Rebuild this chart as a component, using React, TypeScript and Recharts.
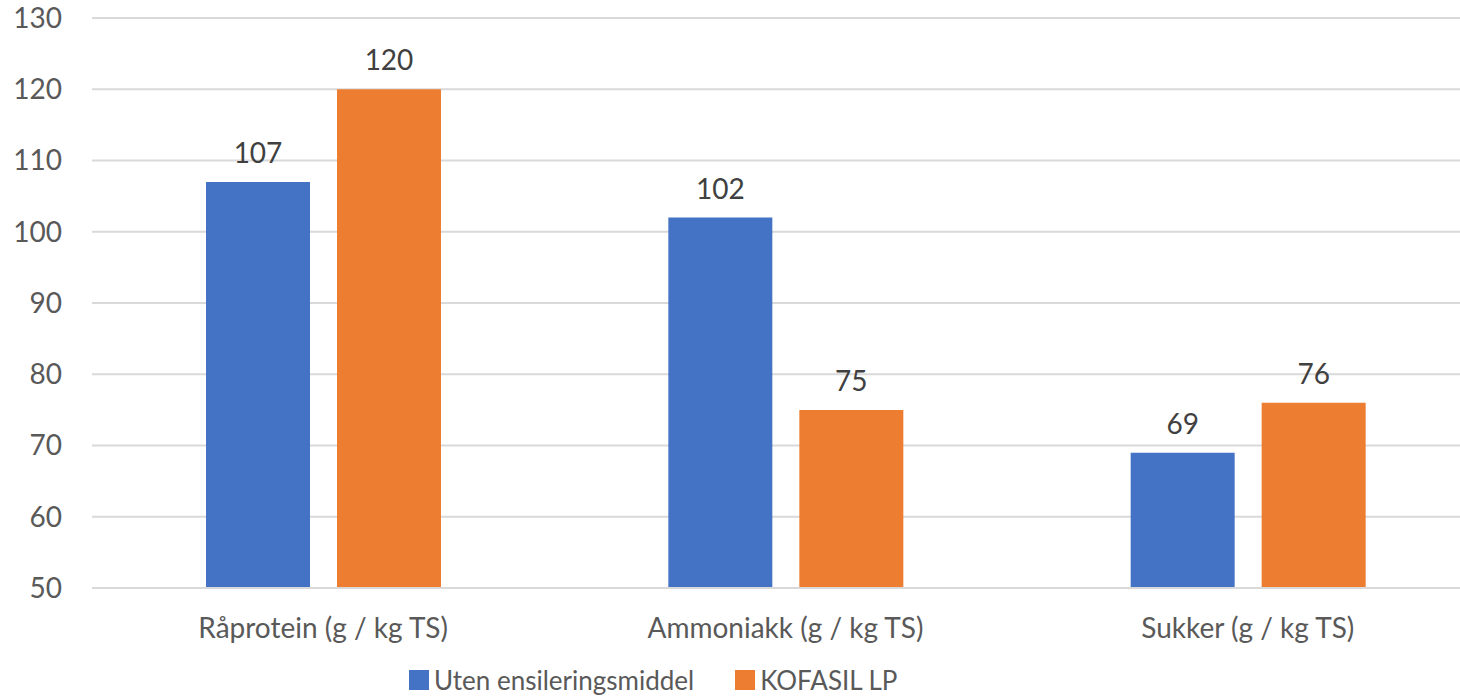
import React from 'react';
import { BarChart, Bar, XAxis, YAxis, CartesianGrid, LabelList } from 'recharts';

const categories = ['Råprotein (g / kg TS)', 'Ammoniakk (g / kg TS)', 'Sukker (g / kg TS)'];
const utenValues = [107, 102, 69];
const kofasilValues = [120, 75, 76];
const yTicks = [50, 60, 70, 80, 90, 100, 110, 120, 130];

const seriesNames = ['Uten ensileringsmiddel', 'KOFASIL LP'];
const colors = ['#4472C4', '#ED7D31'];

const data = categories.map((name, i) => ({
  name,
  uten: utenValues[i],
  kofasil: kofasilValues[i],
}));

const FONT = 'Lato, "Open Sans", sans-serif';

const LegendRow = () => (
  <div
    style={{
      position: 'absolute',
      left: 409,
      top: 664,
      display: 'flex',
      alignItems: 'center',
      fontFamily: FONT,
      fontSize: 26,
      color: '#595959',
      lineHeight: '32px',
    }}
  >
    {seriesNames.map((n, i) => (
      <div key={n} style={{ display: 'flex', alignItems: 'center', marginRight: i === 0 ? 41 : 0 }}>
        <span style={{ display: 'inline-block', width: 20, height: 20, background: colors[i], marginRight: 5 }} />
        <span>{n}</span>
      </div>
    ))}
  </div>
);

export default function App() {
  return (
    <div style={{ position: 'fixed', left: 0, top: 0, width: 1460, height: 696, background: '#fff', overflow: 'hidden' }}>
      <BarChart
        width={1479}
        height={696}
        data={data}
        margin={{ top: 18, right: 0, bottom: 0, left: 0 }}
        barSize={104}
        barGap={27}
      >
        <CartesianGrid vertical={false} stroke="#D9D9D9" strokeWidth={2} />
        <XAxis
          dataKey="name"
          height={108}
          axisLine={{ stroke: '#D9D9D9', strokeWidth: 2 }}
          tickLine={false}
          tickSize={0}
          tickMargin={30}
          tick={{ fill: '#595959', fontSize: 28, fontFamily: FONT }}
        />
        <YAxis
          width={92}
          domain={[50, 130]}
          ticks={yTicks}
          allowDataOverflow
          axisLine={false}
          tickLine={false}
          tickSize={0}
          tickMargin={30}
          tick={{ fill: '#595959', fontSize: 28, fontFamily: FONT }}
        />
        <Bar dataKey="uten" name={seriesNames[0]} fill={colors[0]} isAnimationActive={false}>
          <LabelList dataKey="uten" position="top" offset={19} fill="#404040" fontSize={28} fontFamily={FONT} />
        </Bar>
        <Bar dataKey="kofasil" name={seriesNames[1]} fill={colors[1]} isAnimationActive={false}>
          <LabelList dataKey="kofasil" position="top" offset={19} fill="#404040" fontSize={28} fontFamily={FONT} />
        </Bar>
      </BarChart>
      <LegendRow />
    </div>
  );
}
